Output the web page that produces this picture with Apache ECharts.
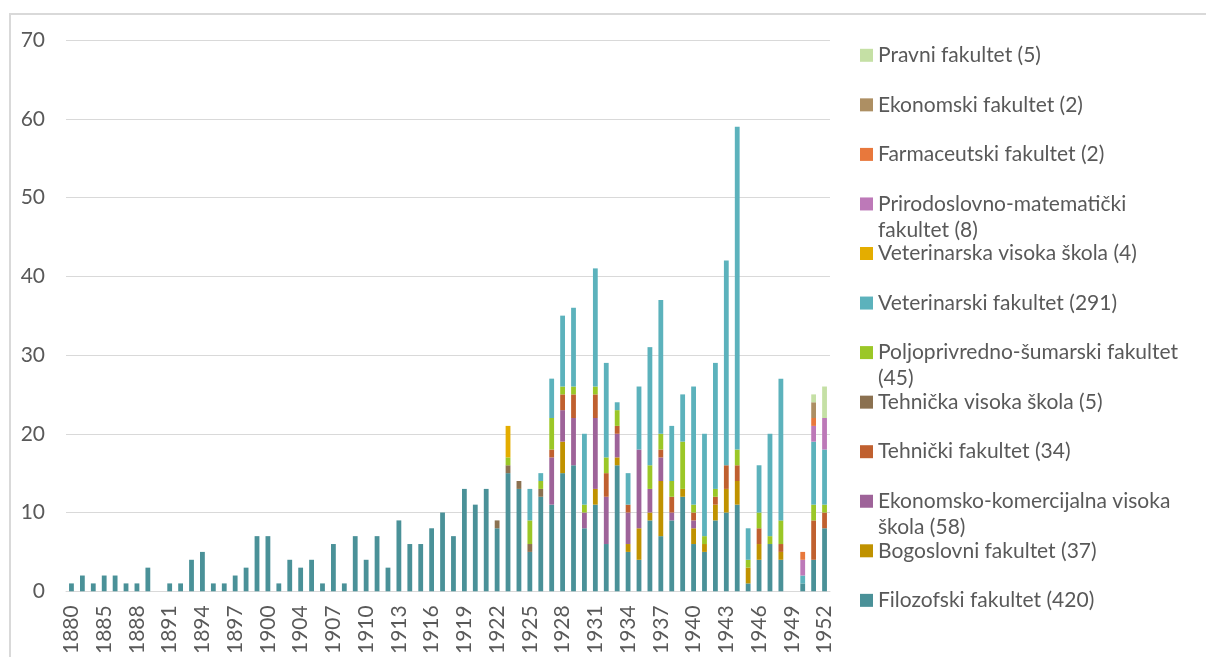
<!DOCTYPE html>
<html>
<head>
<meta charset="utf-8">
<script src="https://cdn.jsdelivr.net/npm/echarts@6/dist/echarts.min.js"></script>
<style>
html,body{margin:0;padding:0;background:#fff;}
#chart{width:1206px;height:657px;}
</style>
</head>
<body>
<div id="chart"></div>
<script>
// Categories (years present in the source data)
var years = ['1880','1882','1883','1885','1886','1887','1888','1889','1890','1891','1892','1893','1894','1895','1896','1897','1898','1899','1900','1901','1902',
  '1904','1905','1906','1907','1908','1909','1910','1911','1912','1913','1914','1915','1916','1917','1918','1919','1920','1921',
  '1922','1923','1924','1925','1926','1927','1928','1929','1930','1931','1932','1933','1934','1935','1936','1937','1938','1939','1940',
  '1941','1942','1943','1944','1945','1946','1947','1948','1949','1950','1951','1952'];

var filozofski = [1,2,1,2,2,1,1,3,0,1,1,4,5,1,1,2,3,7,7,1,4,
  3,4,1,6,1,7,4,7,3,9,6,6,8,10,7,13,11,13,
  8,15,13,5,12,11,15,16,8,11,6,16,5,4,9,7,9,12,6,5,9,10,11,1,4,6,4,0,1,4,8];
var bogoslovni = [0,0,0,0,0,0,0,0,0,0,0,0,0,0,0,0,0,0,0,0,0,
  0,0,0,0,0,0,0,0,0,0,0,0,0,0,0,0,0,0,
  0,0,0,0,0,0,4,0,0,2,0,1,1,4,1,7,0,1,2,1,2,3,3,2,2,0,1,0,0,0,0];
var ekonKomVS = [0,0,0,0,0,0,0,0,0,0,0,0,0,0,0,0,0,0,0,0,0,
  0,0,0,0,0,0,0,0,0,0,0,0,0,0,0,0,0,0,
  0,0,0,0,0,6,4,6,2,9,6,3,4,10,3,3,1,0,1,0,0,0,0,0,0,0,0,0,0,0,0];
var tehnickiFak = [0,0,0,0,0,0,0,0,0,0,0,0,0,0,0,0,0,0,0,0,0,
  0,0,0,0,0,0,0,0,0,0,0,0,0,0,0,0,0,0,
  0,0,0,0,0,1,2,3,0,3,3,1,1,0,0,1,2,0,1,0,1,3,2,0,2,0,1,0,0,5,2];
var tehnickaVS = [0,0,0,0,0,0,0,0,0,0,0,0,0,0,0,0,0,0,0,0,0,
  0,0,0,0,0,0,0,0,0,0,0,0,0,0,0,0,0,0,
  1,1,1,1,1,0,0,0,0,0,0,0,0,0,0,0,0,0,0,0,0,0,0,0,0,0,0,0,0,0,0];
var poljSum = [0,0,0,0,0,0,0,0,0,0,0,0,0,0,0,0,0,0,0,0,0,
  0,0,0,0,0,0,0,0,0,0,0,0,0,0,0,0,0,0,
  0,1,0,3,1,4,1,1,1,1,2,2,0,0,3,2,2,6,1,1,1,0,2,1,2,1,3,0,0,2,1];
var vetFak = [0,0,0,0,0,0,0,0,0,0,0,0,0,0,0,0,0,0,0,0,0,
  0,0,0,0,0,0,0,0,0,0,0,0,0,0,0,0,0,0,
  0,0,0,4,1,5,9,10,9,15,12,1,4,8,15,17,7,6,15,13,16,26,41,4,6,13,18,0,1,8,7];
var vetVS = [0,0,0,0,0,0,0,0,0,0,0,0,0,0,0,0,0,0,0,0,0,
  0,0,0,0,0,0,0,0,0,0,0,0,0,0,0,0,0,0,
  0,4,0,0,0,0,0,0,0,0,0,0,0,0,0,0,0,0,0,0,0,0,0,0,0,0,0,0,0,0,0];
var pmf = [0,0,0,0,0,0,0,0,0,0,0,0,0,0,0,0,0,0,0,0,0,
  0,0,0,0,0,0,0,0,0,0,0,0,0,0,0,0,0,0,
  0,0,0,0,0,0,0,0,0,0,0,0,0,0,0,0,0,0,0,0,0,0,0,0,0,0,0,0,2,2,4];
var farmaceutski = [0,0,0,0,0,0,0,0,0,0,0,0,0,0,0,0,0,0,0,0,0,
  0,0,0,0,0,0,0,0,0,0,0,0,0,0,0,0,0,0,
  0,0,0,0,0,0,0,0,0,0,0,0,0,0,0,0,0,0,0,0,0,0,0,0,0,0,0,0,1,1,0];
var ekonomski = [0,0,0,0,0,0,0,0,0,0,0,0,0,0,0,0,0,0,0,0,0,
  0,0,0,0,0,0,0,0,0,0,0,0,0,0,0,0,0,0,
  0,0,0,0,0,0,0,0,0,0,0,0,0,0,0,0,0,0,0,0,0,0,0,0,0,0,0,0,0,2,0];
var pravni = [0,0,0,0,0,0,0,0,0,0,0,0,0,0,0,0,0,0,0,0,0,
  0,0,0,0,0,0,0,0,0,0,0,0,0,0,0,0,0,0,
  0,0,0,0,0,0,0,0,0,0,0,0,0,0,0,0,0,0,0,0,0,0,0,0,0,0,0,0,0,1,4];

var seriesNames = ['Filozofski fakultet (420)','Bogoslovni fakultet (37)','Ekonomsko-komercijalna visoka škola (58)',
  'Tehnički fakultet (34)','Tehnička visoka škola (5)','Poljoprivredno-šumarski fakultet (45)','Veterinarski fakultet (291)',
  'Veterinarska visoka škola (4)','Prirodoslovno-matematički fakultet (8)','Farmaceutski fakultet (2)','Ekonomski fakultet (2)','Pravni fakultet (5)'];
var legendLabels = ['Filozofski fakultet (420)','Bogoslovni fakultet (37)','Ekonomsko-komercijalna visoka\nškola (58)',
  'Tehnički fakultet (34)','Tehnička visoka škola (5)','Poljoprivredno-šumarski fakultet\n(45)','Veterinarski fakultet (291)',
  'Veterinarska visoka škola (4)','Prirodoslovno-matematički\nfakultet (8)','Farmaceutski fakultet (2)','Ekonomski fakultet (2)','Pravni fakultet (5)'];
var seriesData = [filozofski,bogoslovni,ekonKomVS,tehnickiFak,tehnickaVS,poljSum,vetFak,vetVS,pmf,farmaceutski,ekonomski,pravni];
var colors = ['#4a9198','#c09200','#9e6399','#c0602f','#8b7150','#9bc727','#5cb2bc','#e4ad00','#bd79b8','#e8783c','#ad8f63','#c5e0a5'];
var yTicks = {min:0, max:70, interval:10};

var FONT = 'Lato, "Liberation Sans", sans-serif';
var TXT = '#595959';

var series = seriesNames.map(function(n,i){
  return {name:n, type:'bar', stack:'total', data:seriesData[i], barWidth:'44%',
    itemStyle:{color:colors[i]}, emphasis:{disabled:true}};
});

// legend: one component per item, top to bottom = reverse stack order
var legends = [];
var firstCenter = 55.3, step = 49.55, LH = 26;
for (var k=0;k<seriesNames.length;k++){
  var idx = seriesNames.length-1-k;
  var multi = legendLabels[idx].indexOf('\n')>=0;
  var c = firstCenter + step*k;
  // for wrapped items a leading empty line keeps the first text line level with the icon
  var lbl = multi ? ('\n' + legendLabels[idx]) : legendLabels[idx];
  legends.push({
    data:[seriesNames[idx]], orient:'vertical', left:860, top: multi ? c-1.5*LH : c-0.5*LH,
    padding:0, icon:'rect', itemWidth:13, itemHeight:13,
    formatter:(function(t){return function(){return t;};})(lbl),
    textStyle:{fontFamily:FONT, fontSize:21, color:TXT, lineHeight:LH}
  });
}

var chart = echarts.init(document.getElementById('chart'), null, {renderer:'canvas'});
chart.setOption({
  animation:false,
  backgroundColor:'#ffffff',
  color:colors,
  graphic:[{type:'rect', shape:{x:10,y:14,width:1300,height:800}, style:{fill:'none', stroke:'#d9d9d9', lineWidth:2}, silent:true}],
  legend:legends,
  grid:{left:66, right:376, top:40, bottom:64, containLabel:false},
  xAxis:{type:'category', data:years,
    axisLine:{lineStyle:{color:'#d9d9d9', width:1}}, axisTick:{show:false},
    axisLabel:{interval:2, rotate:90, margin:14, fontFamily:FONT, fontSize:21, color:TXT}},
  yAxis:{type:'value', min:yTicks.min, max:yTicks.max, interval:yTicks.interval,
    axisLine:{show:false}, axisTick:{show:false},
    splitLine:{lineStyle:{color:'#d9d9d9', width:1}},
    axisLabel:{margin:21, fontFamily:FONT, fontSize:21, color:TXT}},
  series:series
});
</script>
</body>
</html>
